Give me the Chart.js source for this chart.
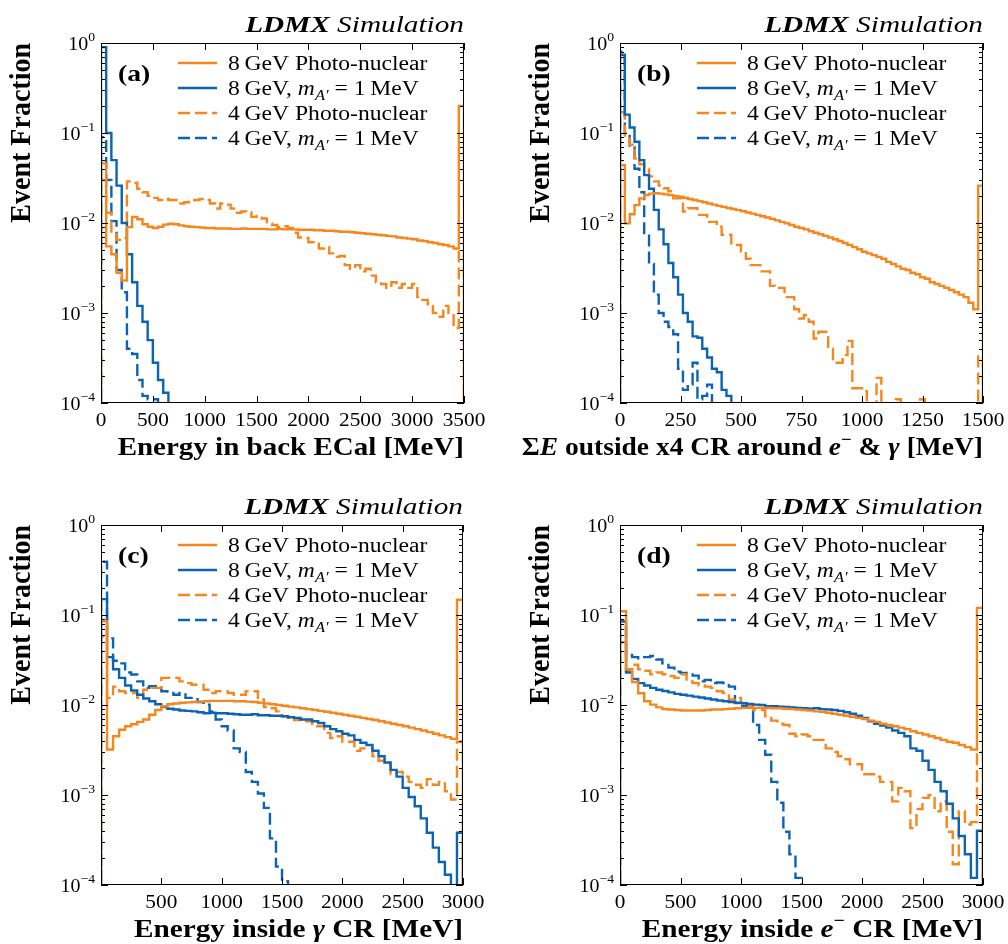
<!DOCTYPE html>
<html>
<head>
<meta charset="utf-8">
<script src="https://cdn.jsdelivr.net/npm/chart.js@4.4.1/dist/chart.umd.min.js"></script>
<style>
  html, body { margin: 0; padding: 0; background: #fff; }
  #wrap { position: relative; width: 1008px; height: 944px; overflow: hidden; }
  canvas { position: absolute; }
</style>
</head>
<body>
<div id="wrap">
  <canvas id="cA" width="504" height="472" style="left:0;top:0"></canvas>
  <canvas id="cB" width="504" height="472" style="left:504px;top:0"></canvas>
  <canvas id="cC" width="504" height="472" style="left:0;top:472px"></canvas>
  <canvas id="cD" width="504" height="472" style="left:504px;top:472px"></canvas>
</div>
<script>
// ─── DATA ─────────────────────────────────────────────────────────────────────
// bin widths [MeV]; every array is a histogram starting at 0 MeV
const binA = 50, binB = 20, binC = 50, binD = 50;

// (a) energy in back ECal
const aPn8 = [0.046,0.0055,0.0045,0.0028,0.0023,0.009,0.0117,0.011,0.0097,0.0091,
  0.0088,0.0091,0.0096,0.0098,0.0097,0.0094,0.0092,0.0091,0.009,0.0089,
  0.0088,0.0088,0.0087,0.0087,0.0087,0.0086,0.0086,0.0087,0.0086,0.0086,
  0.0086,0.0086,0.0085,0.0085,0.0086,0.0085,0.0085,0.0085,0.0084,0.0084,
  0.0084,0.0083,0.0083,0.0082,0.0082,0.0081,0.008,0.008,0.0079,0.0078,
  0.0077,0.0076,0.0075,0.0074,0.0073,0.0072,0.0071,0.0069,0.0068,0.0067,
  0.0066,0.0064,0.0063,0.0061,0.006,0.0058,0.0057,0.0055,0.0052,0.2];
const aAp8 = [0.9,0.1,0.05,0.026,0.01,0.0045,0.0022,0.0012,0.0008,0.0005,0.00028,0.00018,0.00013];
const aPn4 = [0.03,0.013,0.0075,0.0065,0.0068,0.029,0.028,0.024,0.022,0.02,
  0.019,0.018,0.0186,0.018,0.018,0.0165,0.017,0.0172,0.018,0.0185,
  0.018,0.0165,0.0145,0.0165,0.016,0.0145,0.013,0.0134,0.0132,0.0117,
  0.012,0.0112,0.0098,0.0095,0.009,0.0092,0.0088,0.0078,0.0069,0.0068,
  0.0061,0.0059,0.0052,0.0054,0.0046,0.0042,0.0043,0.0034,0.0031,0.0034,
  0.0029,0.0031,0.0026,0.0022,0.0021,0.0019,0.0022,0.0019,0.0021,0.0019,
  0.0021,0.0015,0.0014,0.0012,0.001,0.00091,0.0012,0.001,0.00068,0.005];
const aAp4 = [0.09,0.03,0.0105,0.003,0.0017,0.0004,0.00035,0.00018,0.00012,0.00011,0.00011];

// (b) sum E outside x4 CR
const bPn8 = [0.044,0.0099,0.0125,0.0158,0.0188,0.0205,0.0212,0.0214,0.0212,0.0208,
  0.0204,0.02,0.0196,0.0191,0.0185,0.018,0.0175,0.017,0.0165,0.016,
  0.0155,0.0151,0.0147,0.0143,0.0139,0.0135,0.0131,0.0127,0.0123,0.0119,
  0.0115,0.0111,0.0107,0.0103,0.0099,0.0095,0.0091,0.0088,0.0085,0.0081,
  0.0078,0.0075,0.0072,0.0069,0.0066,0.0063,0.006,0.0057,0.0054,0.0051,
  0.0048,0.0046,0.0044,0.0042,0.004,0.0037,0.0035,0.0033,0.0031,0.003,
  0.0028,0.0027,0.0025,0.0024,0.0022,0.0021,0.002,0.0019,0.0018,0.0017,
  0.0016,0.0015,0.0013,0.0011,0.026];
const bAp8 = [0.74,0.16,0.115,0.08,0.05,0.034,0.024,0.014,0.0085,0.0058,0.0036,0.0025,
  0.0016,0.001,0.0008,0.00055,0.00053,0.0004,0.00032,0.00024,0.00022,0.00014,0.00012];
const bPn4 = [0.17,0.087,0.074,0.052,0.045,0.04,0.033,0.029,0.026,0.0243,
  0.0225,0.0188,0.0188,0.0134,0.0146,0.0146,0.0123,0.0123,0.0103,0.0103,
  0.0091,0.0074,0.0074,0.0057,0.0057,0.0048,0.004,0.0034,0.0034,0.0029,
  0.0029,0.002,0.0019,0.0019,0.0015,0.0015,0.0011,0.00087,0.00095,0.0008,
  0.00052,0.00062,0.00062,0.0004,0.00028,0.00028,0.00034,0.00049,0.000146,0.000146,
  0.000135,0.00005,0.00005,0.00019,0.00005,0.00005,0.00005,0.00011,0.00005,0.00005,
  0.00005,0.00005,0.00011,0.00005,0.00005,0.00005,0.00005,0.00005,0.00005,0.00005,
  0.00005,0.00005,0.00005,0.00005,0.00033];
const bAp4 = [0.8,0.1,0.07,0.04,0.022,0.0075,0.0035,0.0016,0.001,0.0008,0.0007,0.00058,
  0.00024,0.00014,0.00016,0.00028,0.00011,0.00012,0.00016];

// (c) energy inside gamma CR
const cPn8 = [0.085,0.0032,0.0045,0.0053,0.0058,0.0061,0.0065,0.0069,0.0078,0.0088,
  0.0097,0.0102,0.0104,0.0106,0.0107,0.0108,0.0109,0.011,0.0111,0.0111,
  0.0111,0.0111,0.011,0.011,0.0109,0.0108,0.0106,0.0104,0.0102,0.01,
  0.0098,0.0096,0.0094,0.0092,0.009,0.0088,0.0086,0.0084,0.0082,0.008,
  0.0078,0.0076,0.0074,0.0072,0.007,0.0068,0.0066,0.0064,0.0062,0.006,
  0.0058,0.0056,0.0054,0.0052,0.005,0.0048,0.0046,0.0044,0.0042,0.148];
const cAp8 = [0.15,0.034,0.025,0.02,0.0165,0.0145,0.013,0.0118,0.011,0.0102,
  0.0095,0.0091,0.0089,0.0087,0.0086,0.0085,0.0083,0.0081,0.0082,0.0081,
  0.0081,0.008,0.0079,0.0078,0.0078,0.0079,0.0077,0.0077,0.0076,0.0076,
  0.0075,0.0073,0.0072,0.0069,0.0069,0.0066,0.0063,0.0058,0.0054,0.0051,
  0.0048,0.0046,0.0041,0.0038,0.0036,0.0031,0.0027,0.0023,0.0019,0.0016,
  0.0012,0.00095,0.00075,0.00055,0.00038,0.00026,0.00018,0.00013,0.00006,0.00038];
const cPn4 = [0.058,0.012,0.016,0.0142,0.0136,0.0136,0.012,0.0148,0.0155,0.0155,
  0.02,0.02,0.02,0.0183,0.0175,0.0168,0.0168,0.0148,0.0136,0.0142,
  0.0142,0.0136,0.013,0.013,0.0142,0.0142,0.0115,0.0095,0.0092,0.0085,
  0.0075,0.0072,0.0068,0.0072,0.0066,0.0058,0.0058,0.0049,0.0043,0.0045,
  0.0039,0.0039,0.0031,0.0033,0.0033,0.0027,0.0024,0.0022,0.0017,0.0018,
  0.0016,0.0014,0.0013,0.0012,0.0015,0.0013,0.0014,0.0011,0.00089,0.0039];
const cAp4 = [0.39,0.055,0.031,0.029,0.023,0.0218,0.0183,0.0155,0.0162,0.0162,
  0.0142,0.0136,0.013,0.0136,0.012,0.012,0.0108,0.0101,0.0085,0.0069,
  0.0058,0.0052,0.0033,0.003,0.0018,0.0014,0.00104,0.00072,0.00033,0.00016,0.00011];

// (d) energy inside electron CR
const dPn8 = [0.11,0.025,0.018,0.0135,0.011,0.0101,0.0094,0.009,0.0089,0.0088,
  0.0087,0.0087,0.0087,0.0087,0.0088,0.0089,0.0089,0.009,0.0091,0.0092,
  0.0093,0.0093,0.0093,0.0093,0.0093,0.0092,0.0092,0.0091,0.009,0.0089,
  0.0088,0.0087,0.0085,0.0084,0.0082,0.008,0.0078,0.0076,0.0074,0.0072,
  0.007,0.0067,0.0065,0.0062,0.006,0.0058,0.0056,0.0054,0.0051,0.0049,
  0.0047,0.0045,0.0043,0.0041,0.0039,0.0038,0.0036,0.0034,0.0032,0.12];
const dAp8 = [0.085,0.023,0.0195,0.0175,0.0165,0.0155,0.0148,0.0143,0.0138,0.0133,
  0.013,0.0127,0.0124,0.0121,0.0118,0.0115,0.0112,0.011,0.0108,0.0106,
  0.0105,0.0103,0.0101,0.01,0.0097,0.0097,0.0096,0.0095,0.0094,0.0093,
  0.0092,0.0091,0.0092,0.009,0.0089,0.0088,0.0086,0.0083,0.008,0.0076,
  0.0072,0.0066,0.0062,0.0059,0.0056,0.0052,0.0049,0.0045,0.0033,0.0031,
  0.0024,0.0019,0.0014,0.0011,0.0008,0.00055,0.00035,0.00022,0.00012,0.0004];
const dPn4 = [0.05,0.024,0.028,0.025,0.024,0.022,0.023,0.022,0.021,0.02,
  0.022,0.0183,0.0175,0.0165,0.016,0.0155,0.0142,0.0136,0.0115,0.012,
  0.0105,0.0098,0.0088,0.0088,0.0075,0.0067,0.0062,0.006,0.0048,0.0045,
  0.0047,0.0045,0.0041,0.0041,0.0033,0.003,0.0027,0.0025,0.0022,0.0022,
  0.0017,0.0017,0.0016,0.0014,0.0014,0.00085,0.0012,0.0011,0.00043,0.0007,
  0.00093,0.001,0.00066,0.00085,0.00039,0.00017,0.00066,0.00047,0.0005,0.003];
const dAp4 = [0.085,0.036,0.034,0.033,0.034,0.035,0.032,0.029,0.026,0.0235,
  0.0227,0.0218,0.0212,0.0183,0.019,0.0175,0.0178,0.0175,0.016,0.0105,
  0.0098,0.0093,0.006,0.0041,0.0028,0.0014,0.00082,0.00039,0.00022,0.00012];

const xTicksA = [0, 500, 1000, 1500, 2000, 2500, 3000, 3500];
const xTicksB = [0, 250, 500, 750, 1000, 1250, 1500];
const xTicksC = [500, 1000, 1500, 2000, 2500, 3000];
const xTicksD = [0, 500, 1000, 1500, 2000, 2500, 3000];
const yTicks = [1, 0.1, 0.01, 0.001, 0.0001];
const yTickExp = ['0', '\u22121', '\u22122', '\u22123', '\u22124'];
const seriesNames = ['8 GeV Photo-nuclear', '8 GeV, m_{A\u2032} = 1 MeV',
  '4 GeV Photo-nuclear', '4 GeV, m_{A\u2032} = 1 MeV'];

// ─── STYLE ────────────────────────────────────────────────────────────────────
const ORANGE = '#f7861c', BLUE = '#0b63b6';
const DASH = [12, 5];
const SX = 1.2;                       // reference text is stretched horizontally
const SERIF = '"Liberation Serif", "Times New Roman", serif';
const TINY = 1e-7;                    // off-scale baseline for histogram edges

function hist(vals, w) {
  const pts = [{ x: 0, y: TINY }];
  vals.forEach((v, i) => pts.push({ x: i * w, y: v }));
  pts.push({ x: vals.length * w, y: TINY });
  return pts;
}

function rich(ctx, parts, x, y, align, sx = SX) {
  let w = 0;
  parts.forEach(p => { ctx.font = p.f; p.w = ctx.measureText(p.t).width; w += p.w; });
  const x0 = align === 'right' ? x - w * sx : align === 'center' ? x - w * sx / 2 : x;
  ctx.save();
  ctx.translate(x0, y); ctx.scale(sx, 1);
  ctx.textAlign = 'left'; ctx.textBaseline = 'alphabetic';
  let cx = 0;
  parts.forEach(p => { ctx.font = p.f; ctx.fillText(p.t, cx, p.dy || 0); cx += p.w; });
  ctx.restore();
}

function legendParts(name) {
  const n = '20px ' + SERIF;
  const txt = name.replace(/ GeV/, '\u2009GeV').replace(/1 MeV/, '1\u2009MeV');
  if (!txt.includes('m_{')) return [{ t: txt, f: n }];
  const [pre, rest] = txt.split('m_{');
  const [sub, post] = rest.split('}');
  return [{ t: pre, f: n }, { t: 'm', f: 'italic 20px ' + SERIF },
    { t: sub, f: 'italic 14px ' + SERIF, dy: 5 }, { t: post, f: n }];
}

const B = sz => 'bold ' + sz + 'px ' + SERIF;
const BI = sz => 'italic bold ' + sz + 'px ' + SERIF;

function makeDecor(p) {
  return {
    id: 'decor' + p.letter,
    afterDraw(chart) {
      const ctx = chart.ctx, A = chart.chartArea, xs = chart.scales.x, ys = chart.scales.y;
      ctx.save();
      ctx.strokeStyle = '#000'; ctx.fillStyle = '#000'; ctx.lineWidth = 1;
      ctx.strokeRect(A.left + 0.5, A.top + 0.5, A.right - A.left - 1, A.bottom - A.top - 1);
      ctx.beginPath();
      p.xTicks.forEach(v => {
        const px = Math.round(xs.getPixelForValue(v)) + 0.5;
        ctx.moveTo(px, A.bottom); ctx.lineTo(px, A.bottom - 7);
        ctx.moveTo(px, A.top); ctx.lineTo(px, A.top + 7);
      });
      yTicks.forEach((v, i) => {
        const py = Math.round(ys.getPixelForValue(v)) + 0.5;
        ctx.moveTo(A.left, py); ctx.lineTo(A.left + 7, py);
        ctx.moveTo(A.right, py); ctx.lineTo(A.right - 7, py);
        if (i === 0) return;
        for (let m = 2; m <= 9; m++) {
          const q = Math.round(ys.getPixelForValue(v * m)) + 0.5;
          ctx.moveTo(A.left, q); ctx.lineTo(A.left + 4, q);
          ctx.moveTo(A.right, q); ctx.lineTo(A.right - 4, q);
        }
      });
      ctx.stroke();

      // tick labels
      p.xTicks.forEach(v => rich(ctx, [{ t: String(v), f: '19px ' + SERIF }],
        xs.getPixelForValue(v), A.bottom + 23, 'center', 1.12));
      yTicks.forEach((v, i) => rich(ctx,
        [{ t: '10', f: '19px ' + SERIF }, { t: yTickExp[i], f: '13px ' + SERIF, dy: -9 }],
        A.left - 6, ys.getPixelForValue(v) + 7, 'right', 1.05));

      // axis titles
      rich(ctx, p.xTitle, A.right, A.bottom + 52, 'right', p.titleSx);
      ctx.save();
      ctx.translate(A.left - 79, A.top); ctx.scale(1.05, 1); ctx.rotate(-Math.PI / 2);
      ctx.font = B(28); ctx.textAlign = 'right'; ctx.textBaseline = 'middle';
      ctx.fillText('Event Fraction', 0, 0);
      ctx.restore();

      rich(ctx, [{ t: 'LDMX', f: BI(24) }, { t: ' Simulation', f: 'italic 24px ' + SERIF }],
        A.right, A.top - 11, 'right', 1.22);
      rich(ctx, [{ t: '(' + p.letter + ')', f: B(23) }], A.left + 17, A.top + 38, 'left');

      // legend
      p.series.forEach((s, i) => {
        const cy = A.top + 20 + 25 * i;
        ctx.strokeStyle = s.color; ctx.lineWidth = 2.5;
        ctx.setLineDash(s.dash ? DASH : []);
        ctx.beginPath(); ctx.moveTo(A.left + 77, cy); ctx.lineTo(A.left + 116, cy); ctx.stroke();
        ctx.setLineDash([]);
        ctx.fillStyle = '#000';
        rich(ctx, legendParts(seriesNames[i]), A.left + 127, cy + 7, 'left', 1.18);
      });
      ctx.restore();
    }
  };
}

function makeChart(id, p) {
  const ds = p.series.map(s => ({
    data: hist(s.vals, p.bin), borderColor: s.color, borderWidth: 2.4,
    borderDash: s.dash ? DASH : [], stepped: 'before', pointRadius: 0,
    fill: false, tension: 0
  }));
  return new Chart(document.getElementById(id), {
    type: 'line',
    data: { datasets: ds },
    options: {
      responsive: false, animation: false, devicePixelRatio: 1,
      layout: { padding: p.pad },
      scales: {
        x: { type: 'linear', min: p.xMin, max: p.xMax, display: false },
        y: { type: 'logarithmic', min: 1e-4, max: 1, display: false }
      },
      plugins: { legend: { display: false }, tooltip: { enabled: false } }
    },
    plugins: [makeDecor(p)]
  });
}

const ser = (pn8, ap8, pn4, ap4) => [
  { vals: pn8, color: ORANGE, dash: false },
  { vals: ap8, color: BLUE, dash: false },
  { vals: pn4, color: ORANGE, dash: true },
  { vals: ap4, color: BLUE, dash: true }
];

makeChart('cA', {
  letter: 'a', bin: binA, xMin: 0, xMax: 3500, xTicks: xTicksA,
  pad: { left: 101, right: 40, top: 43, bottom: 69 },
  series: ser(aPn8, aAp8, aPn4, aAp4), titleSx: 1.16,
  xTitle: [{ t: 'Energy in back ECal [MeV]', f: B(25) }]
});
makeChart('cB', {
  letter: 'b', bin: binB, xMin: 0, xMax: 1500, xTicks: xTicksB,
  pad: { left: 116, right: 25, top: 43, bottom: 69 },
  series: ser(bPn8, bAp8, bPn4, bAp4), titleSx: 1.1,
  xTitle: [{ t: '\u03A3', f: B(25) }, { t: 'E', f: BI(25) }, { t: ' outside x4 CR around ', f: B(25) },
    { t: 'e', f: BI(25) }, { t: '\u2212', f: B(17), dy: -10 }, { t: ' & ', f: B(25) },
    { t: '\u03B3', f: BI(25) }, { t: ' [MeV]', f: B(25) }]
});
makeChart('cC', {
  letter: 'c', bin: binC, xMin: 0, xMax: 3000, xTicks: xTicksC,
  pad: { left: 101, right: 41, top: 53, bottom: 59 },
  series: ser(cPn8, cAp8, cPn4, cAp4), titleSx: 1.17,
  xTitle: [{ t: 'Energy inside ', f: B(25) }, { t: '\u03B3', f: BI(25) }, { t: ' CR [MeV]', f: B(25) }]
});
makeChart('cD', {
  letter: 'd', bin: binD, xMin: 0, xMax: 3000, xTicks: xTicksD,
  pad: { left: 116, right: 25, top: 53, bottom: 59 },
  series: ser(dPn8, dAp8, dPn4, dAp4), titleSx: 1.17,
  xTitle: [{ t: 'Energy inside ', f: B(25) }, { t: 'e', f: BI(25) }, { t: '\u2212', f: B(17), dy: -11 },
    { t: ' CR [MeV]', f: B(25) }]
});
</script>
</body>
</html>
